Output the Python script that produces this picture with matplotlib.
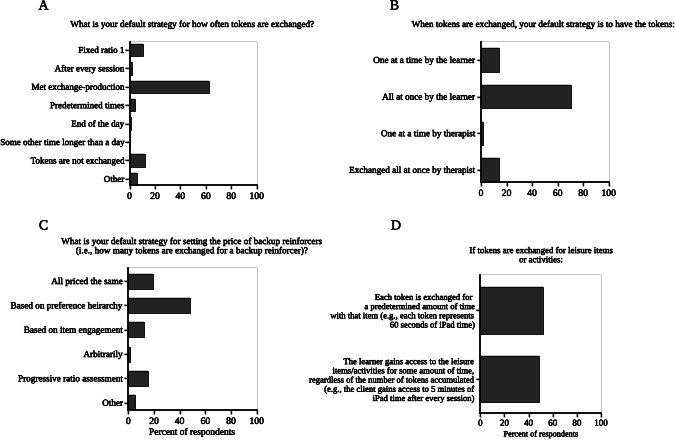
import matplotlib
matplotlib.use("Agg")
import matplotlib.pyplot as plt
import matplotlib.patheffects as pe

# ---- data (percent of respondents) ----
a_title = "What is your default strategy for how often tokens are exchanged?"
a_labels = ["Fixed ratio 1", "After every session", "Met exchange-production",
            "Predetermined times", "End of the day",
            "Some other time longer than a day", "Tokens are not exchanged", "Other"]
a_values = [10.4, 2.2, 62.8, 4.6, 1.4, 0.7, 12.0, 6.1]

b_title = "When tokens are exchanged, your default strategy is to have the tokens:"
b_labels = ["One at a time by the learner", "All at once by the learner",
            "One at a time by therapist", "Exchanged all at once by therapist"]
b_values = [13.8, 70.5, 1.6, 14.1]

c_title = ("What is your default strategy for setting the price of backup reinforcers\n"
           "(i.e., how many tokens are exchanged for a backup reinforcer)?")
c_labels = ["All priced the same", "Based on preference heirarchy",
            "Based on item engagement", "Arbitrarily",
            "Progressive ratio assessment", "Other"]
c_values = [19.5, 48.0, 12.2, 1.6, 15.3, 5.0]

d_title = "If tokens are exchanged for leisure items\nor activities:"
d_labels = ["Each token is exchanged for \na predetermined amount of time\n"
            "with that item (e.g., each token represents\n60 seconds of iPad time)",
            "The learner gains access to the leisure\n"
            "items/activities for some amount of time,\n"
            "regardless of the number of tokens accumulated\n"
            "(e.g., the client gains access to 5 minutes of\n"
            "iPad time after every session)"]
d_values = [51.7, 48.6]

xticks = [0, 20, 40, 60, 80, 100]

plt.rcParams['font.family'] = ['Liberation Serif', 'DejaVu Serif']
# the scanned original looks heavier than plain regular weight
plt.rcParams['path.effects'] = [pe.withStroke(linewidth=0.35, foreground='black')]

W, H = 676, 441
fig = plt.figure(figsize=(W / 100, H / 100), dpi=100)


def px_axes(left, right, top, bottom):
    return fig.add_axes([left / W, 1 - bottom / H, (right - left) / W, (bottom - top) / H])


def panel(ax, labels, values, ylim, bar_h, fs, tfs, xlabel=None, xfs=7):
    pos = list(range(len(labels)))
    ax.barh(pos, values, height=bar_h, color="#222222", edgecolor="black", linewidth=0.6)
    ax.set_xlim(0, 100)
    ax.set_ylim(*ylim)
    ax.set_xticks(xticks)
    ax.set_yticks(pos)
    ax.set_yticklabels(labels, fontsize=fs, linespacing=1.2)
    ax.tick_params(axis='x', labelsize=tfs, length=3, width=1, pad=2)
    ax.tick_params(axis='y', length=3, width=1, pad=0.6)
    for s in ("top", "right"):
        ax.spines[s].set_visible(False)
    for s in ("left", "bottom"):
        ax.spines[s].set_linewidth(1.3)
    if xlabel:
        ax.set_xlabel(xlabel, fontsize=xfs, labelpad=2)


ax_a = px_axes(129.5, 256.7, 42, 185)
panel(ax_a, a_labels, a_values, (7.33, -0.43), 0.68, 6.5, 7)

ax_b = px_axes(481, 608.7, 42, 182)
panel(ax_b, b_labels, b_values, (3.33, -0.49), 0.63, 6.6, 7)

ax_c = px_axes(128.3, 256.7, 267.7, 410)
panel(ax_c, c_labels, c_values, (5.3, -0.55), 0.62, 6.6, 7, "Percent of respondents", 6.8)

ax_d = px_axes(480.3, 601, 275, 412.7)
panel(ax_d, d_labels, d_values, (1.49, -0.51), 0.68, 6.2, 6.5, "Percent of respondents", 5.9)

# titles
fig.text(193 / W, 1 - 25 / H, a_title, ha="center", va="center", fontsize=6.6)
fig.text(544 / W, 1 - 25 / H, b_title, ha="center", va="center", fontsize=6.6)
fig.text(192.5 / W, 1 - 246.7 / H, c_title, ha="center", va="center", fontsize=6.6,
         linespacing=1.2)
fig.text(541 / W, 1 - 255.7 / H, d_title, ha="center", va="center", fontsize=6.35,
         linespacing=1.2)

# panel letters
for letter, x, y in [("A", 43.5, 6), ("B", 394.5, 6), ("C", 43.5, 226), ("D", 396, 226)]:
    fig.text(x / W, 1 - y / H, letter, ha="center", va="center", fontsize=10)

fig.savefig("out.png", dpi=100)
